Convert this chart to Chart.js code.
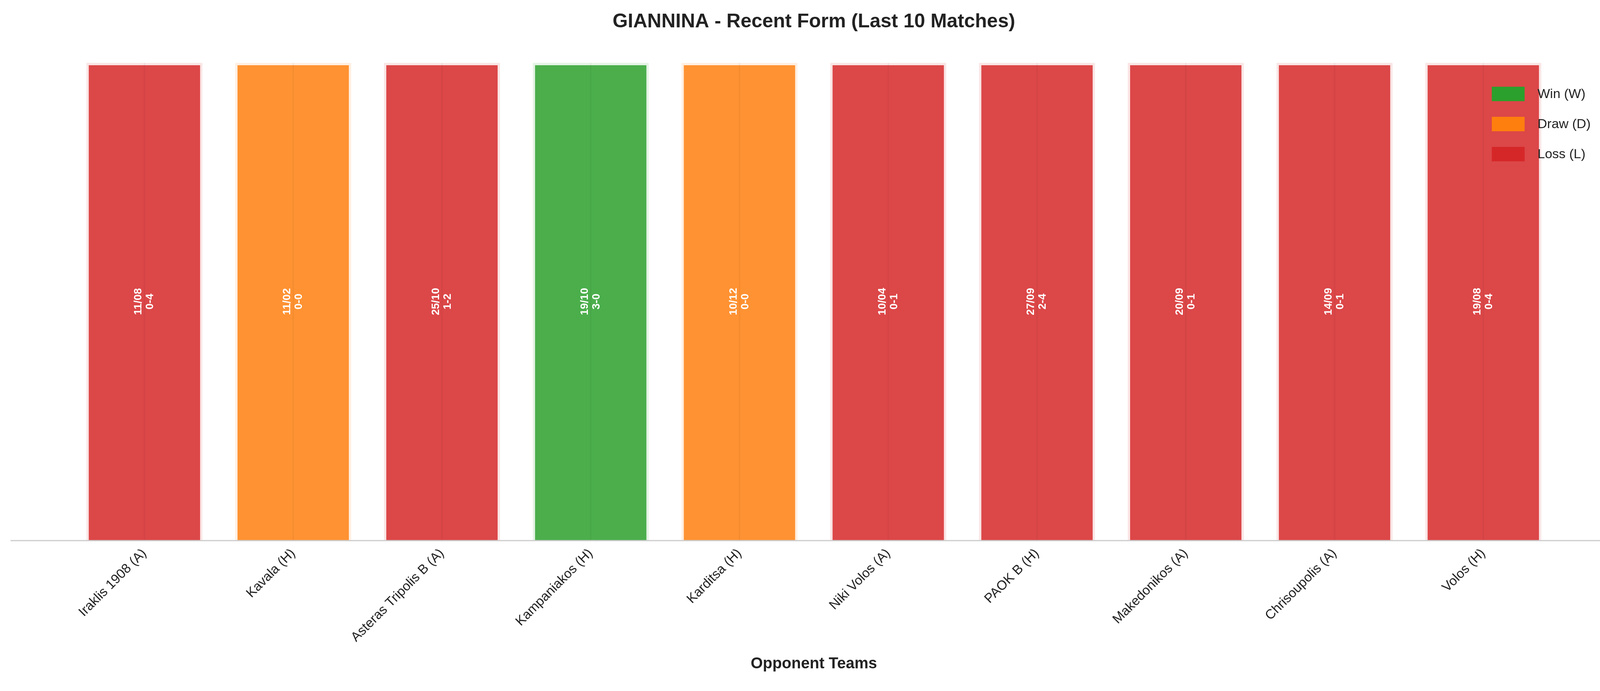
<!DOCTYPE html>
<html><head><meta charset="utf-8">
<script src="https://cdn.jsdelivr.net/npm/chart.js@4"></script>
<style>html,body{margin:0;padding:0;background:#fff}#w{width:4170px;height:1769px}</style>
</head><body><div id="w"><canvas id="c"></canvas></div>
<script>
const opponents = ["Iraklis 1908 (A)","Kavala (H)","Asteras Tripolis B (A)","Kampaniakos (H)","Karditsa (H)","Niki Volos (A)","PAOK B (H)","Makedonikos (A)","Chrisoupolis (A)","Volos (H)"];
const results = ["L","D","L","W","D","L","L","L","L","L"];
const dates = ["11/08","11/02","25/10","19/10","10/12","10/04","27/09","20/09","14/09","19/08"];
const scores = ["0-4","0-0","1-2","3-0","0-0","0-1","2-4","0-1","0-1","0-4"];
const heights = [1,1,1,1,1,1,1,1,1,1];
const legendLabels = ["Win (W)","Draw (D)","Loss (L)"];

const solid = {W:"#2ca02c",D:"#ff7f0e",L:"#d62728"};
const fill = {W:"rgba(44,160,44,0.85)",D:"rgba(255,127,14,0.85)",L:"rgba(214,39,40,0.85)"};
const edge = {W:"rgba(44,160,44,0.12)",D:"rgba(255,127,14,0.12)",L:"rgba(214,39,40,0.12)"};

const labelPlugin = {
  id:"lbl",
  afterDatasetsDraw(ch){
    const ctx=ch.ctx, x=ch.scales.x, y=ch.scales.y;
    ctx.save();
    // thin centre lines and axis line
    ctx.strokeStyle="rgba(0,0,0,0.05)"; ctx.lineWidth=3;
    for(let i=0;i<opponents.length;i++){
      const px=x.getPixelForValue(i);
      ctx.beginPath(); ctx.moveTo(px,y.getPixelForValue(heights[i])); ctx.lineTo(px,y.getPixelForValue(0)); ctx.stroke();
    }
    ctx.strokeStyle="#cccccc"; ctx.lineWidth=3;
    ctx.beginPath(); ctx.moveTo(ch.chartArea.left,y.getPixelForValue(0)+1); ctx.lineTo(ch.chartArea.right,y.getPixelForValue(0)+1); ctx.stroke();

    ctx.fillStyle="#fff"; ctx.font="bold 28px 'Liberation Sans', Arial, sans-serif";
    ctx.textAlign="center"; ctx.textBaseline="middle";
    for(let i=0;i<opponents.length;i++){
      ctx.save();
      ctx.translate(x.getPixelForValue(i), y.getPixelForValue(heights[i]/2));
      ctx.rotate(-Math.PI/2);
      ctx.fillText(dates[i],0,-15);
      ctx.fillText(scores[i],0,15);
      ctx.restore();
    }
    const keys=["W","D","L"];
    ctx.textAlign="left"; ctx.font="34px 'Liberation Sans', Arial, sans-serif";
    keys.forEach((k,j)=>{
      const cy=240+j*77;
      ctx.fillStyle=solid[k]; ctx.fillRect(3819,cy-18,84,37);
      ctx.fillStyle="#222"; ctx.fillText(legendLabels[j],3936,cy+2);
    });
    ctx.restore();
  }
};

new Chart(document.getElementById("c"),{
  type:"bar",
  data:{datasets:[{
    data:heights.map((h,i)=>({x:i,y:h})),
    backgroundColor:results.map(r=>fill[r]),
    borderColor:results.map(r=>edge[r]),
    borderWidth:6,
    barPercentage:0.78, categoryPercentage:1
  }]},
  options:{
    responsive:true, maintainAspectRatio:false, animation:false, devicePixelRatio:1,
    layout:{padding:{left:27,right:30,top:0,bottom:45}},
    plugins:{
      legend:{display:false}, tooltip:{enabled:false},
      title:{display:true,text:"GIANNINA - Recent Form (Last 10 Matches)",color:"#222",
        font:{family:"'Liberation Sans', Arial, sans-serif",size:50,weight:"bold"},padding:{top:26,bottom:14}}
    },
    scales:{
      x:{type:"linear",min:-0.9,max:9.9,offset:false,
        afterBuildTicks(s){s.ticks=opponents.map((_,i)=>({value:i}));},
        ticks:{autoSkip:false,maxRotation:45,minRotation:45,color:"#222",padding:6,
          font:{family:"'Liberation Sans', Arial, sans-serif",size:34},
          callback:(v)=>opponents[v]},
        grid:{display:false,offset:false},
        border:{display:false},
        title:{display:true,text:"Opponent Teams",color:"#222",padding:{top:18,bottom:0},
          font:{family:"'Liberation Sans', Arial, sans-serif",size:40,weight:"bold"}}
      },
      y:{min:0,max:1.05,display:false}
    }
  },
  plugins:[labelPlugin]
});
</script></body></html>
